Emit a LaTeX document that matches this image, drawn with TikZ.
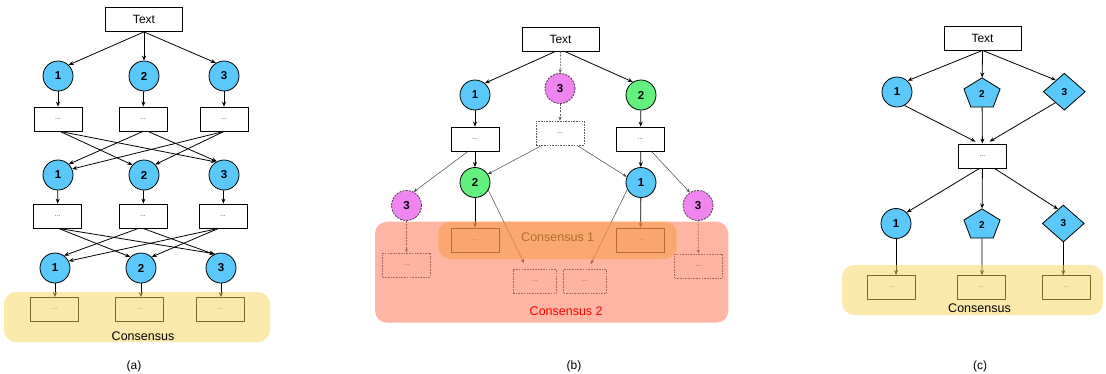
\documentclass[tikz,border=0pt]{standalone}
\usepackage{fontspec}
\setmainfont{Liberation Sans}
\usetikzlibrary{arrows.meta,shapes.geometric,calc}
\definecolor{cblue}{HTML}{5AC8FA}
\definecolor{cgreen}{HTML}{62F07F}
\definecolor{cpink}{HTML}{F084F0}
\definecolor{cyel}{HTML}{F9D55B}
\definecolor{csal}{HTML}{FF6B47}
\definecolor{corg}{HTML}{F79B3D}
\definecolor{ctxtone}{HTML}{AE6E22}
\definecolor{dgray}{HTML}{5A5A5A}
\begin{document}
\begin{tikzpicture}[x=1pt,y=-1pt,
  txtbox/.style={draw, fill=white, line width=0.8pt, minimum width=77pt, minimum height=24pt, inner sep=0pt, font=\fontsize{12}{14}\selectfont},
  agent/.style={circle, draw, line width=0.8pt, minimum size=30pt, inner sep=0pt, font=\fontsize{11.5}{13}\selectfont\bfseries},
  bluea/.style={agent, fill=cblue},
  greena/.style={agent, fill=cgreen},
  pinka/.style={agent, fill=cpink, draw=black!75, dash pattern=on 2pt off 1.2pt},
  pent/.style={regular polygon, regular polygon sides=5, draw, fill=cblue, line width=0.8pt, minimum size=38pt, inner sep=0pt, font=\fontsize{10}{12}\selectfont\bfseries},
  diam/.style={diamond, draw, fill=cblue, line width=0.8pt, minimum width=42pt, minimum height=37pt, inner sep=0pt, font=\fontsize{10}{12}\selectfont\bfseries},
  outbox/.style={draw, fill=white, line width=0.8pt, minimum width=48pt, minimum height=24pt, inner sep=0pt, font=\fontsize{7}{8}\selectfont, text=black!75},
  dbox/.style={outbox, draw=dgray, line width=0.7pt, dash pattern=on 1.6pt off 1.1pt},
  arr/.style={-{Stealth[length=5pt,width=4pt]}, line width=0.8pt},
  thinarr/.style={-{Stealth[length=4pt,width=3.2pt]}, line width=0.5pt, draw=black!72},
  dasharr/.style={-{Stealth[length=4pt,width=3.2pt]}, line width=0.6pt, draw=black!65, dash pattern=on 2pt off 1.2pt},
  lbl/.style={font=\fontsize{12}{14}\selectfont},
  cons/.style={font=\fontsize{12.5}{14}\selectfont, anchor=base}
]
\useasboundingbox (0,0) rectangle (1106,373);

% ================= (a) =================
\node[txtbox] (aT) at (144,19.5) {Text};
\node[bluea] (a11) at (58,76) {1};
\node[bluea] (a12) at (144,76) {2};
\node[bluea] (a13) at (224,76) {3};
\node[outbox] (ab11) at (58,119) {...};
\node[outbox] (ab12) at (143,119) {...};
\node[outbox] (ab13) at (224,119) {...};
\node[bluea] (a21) at (58,175) {1};
\node[bluea] (a22) at (144,175) {2};
\node[bluea] (a23) at (224,175) {3};
\node[outbox] (ab21) at (57.5,216) {...};
\node[outbox] (ab22) at (143,216) {...};
\node[outbox] (ab23) at (223,216) {...};
\node[bluea] (a31) at (55,268) {1};
\node[bluea] (a32) at (141,268) {2};
\node[bluea] (a33) at (221,268) {3};
\node[outbox] (ac1) at (54.5,309.5) {...};
\node[outbox] (ac2) at (139.5,309.5) {...};
\node[outbox] (ac3) at (220,309.5) {...};

\draw[arr] (aT.south) -- (a11.46);
\draw[arr] (aT.south) -- (a12);
\draw[arr] (aT.south) -- (a13.122);
\draw[arr] (a11) -- (ab11);
\draw[arr] (a12) -- (ab12);
\draw[arr] (a13) -- (ab13);
\draw[arr] ([xshift=2pt]ab11.south) -- (a22.139);
\draw[arr] ([xshift=2pt]ab11.south) -- (a23.122);
\draw[arr] (ab12.south) -- (a21.45);
\draw[arr] ([xshift=5pt]ab12.south) -- (a23.118);
\draw[arr] (ab13.south) -- (a21.23);
\draw[arr] (ab13.south) -- (a22.43);
\draw[arr] (a21) -- (ab21);
\draw[arr] (a22) -- (ab22);
\draw[arr] (a23) -- (ab23);
\draw[arr] ([xshift=1pt]ab21.south) -- (a32.134);
\draw[arr] ([xshift=1pt]ab21.south) -- (a33.113);
\draw[arr] ([xshift=-4.5pt]ab22.south) -- (a31.54);
\draw[arr] (ab22.south) -- (a33.117);
\draw[arr] ([xshift=-4.5pt]ab23.south) -- (a31.27);
\draw[arr] ([xshift=-4.5pt]ab23.south) -- (a32.46);
\draw[arr] (a31) -- (a31 |- ac1.north);
\draw[arr] (a32) -- (a32 |- ac2.north);
\draw[arr] (a33) -- (a33 |- ac3.north);

% ================= (b) =================
\node[txtbox] (bT) at (560.5,39) {Text};
\node[bluea] (b11) at (475,95) {1};
\node[pinka] (b13) at (560,88.5) {3};
\node[greena] (b12) at (641,95) {2};
\node[outbox] (bb1) at (475,139) {...};
\node[dbox] (bb3) at (560,133) {...};
\node[outbox] (bb2) at (640.5,139) {...};
\node[greena] (b22) at (475,182.5) {2};
\node[bluea] (b21) at (641,182.5) {1};
\node[pinka] (b23l) at (406.5,205.5) {3};
\node[pinka] (b23r) at (698,205.5) {3};
\node[outbox] (bc1) at (475,240) {...};
\node[outbox] (bc2) at (640.5,240) {...};
\node[dbox] (bd1) at (406.5,265) {...};
\node[dbox, minimum width=43pt] (bd2) at (534.5,281.5) {...};
\node[dbox, minimum width=43pt] (bd3) at (585,281.5) {...};
\node[dbox] (bd4) at (698.5,266) {...};

\draw[arr] ([xshift=-5pt]bT.south) -- (b11.50);
\draw[dasharr] (bT.south) -- (b13);
\draw[arr] ([xshift=4pt]bT.south) -- (b12.122);
\draw[arr] (b11) -- (bb1);
\draw[dasharr] (b13) -- (bb3);
\draw[arr] (b12) -- (bb2);
\draw[arr] (bb1) -- (b22);
\draw[thinarr] ([xshift=-7pt]bb1.south) -- (b23l.62);
\draw[thinarr] ([xshift=-18pt]bb3.south) -- (b22.33);
\draw[thinarr] ([xshift=17pt]bb3.south) -- (b21.158);
\draw[arr] (bb2) -- (b21);
\draw[thinarr] ([xshift=11pt]bb2.south) -- (b23r.122);
\draw[arr] (b22) -- (bc1);
\draw[thinarr] (b22.-30) -- ([xshift=-10.5pt,yshift=6pt]bd2.north);
\draw[arr] (b21) -- (bc2);
\draw[thinarr] (b21.-153) -- ([xshift=5.7pt,yshift=5pt]bd3.north);
\draw[dasharr] (b23l) -- (bd1);
\draw[dasharr] (b23r) -- (bd4);

% ================= (c) =================
\node[txtbox] (cT) at (982.5,38) {Text};
\node[bluea] (c11) at (897,92) {1};
\begin{scope}[shift={(982,94)}, yscale=0.85, transform shape]
  \node[pent] (c12) at (0,0) {\scalebox{1}[1.176]{2}};
\end{scope}
\node[diam] (c13) at (1064.3,91.7) {3};
\node[outbox] (cbox) at (982.5,156) {...};
\node[bluea] (c21) at (896,223.5) {1};
\begin{scope}[shift={(982,225)}, yscale=0.85, transform shape]
  \node[pent] (c22) at (0,0) {\scalebox{1}[1.176]{2}};
\end{scope}
\node[diam] (c23) at (1063.3,223.5) {3};
\node[outbox] (cc1) at (891.7,287.5) {...};
\node[outbox] (cc2) at (981,287.5) {...};
\node[outbox] (cc3) at (1066.5,287.5) {...};

\draw[arr] (cT.south) -- (c11.47);
\draw[arr] (cT.south) -- (c12);
\draw[arr] (cT.south) -- (c13.126);
\draw[arr] (c11.-61) -- ([xshift=-7pt,yshift=2pt]cbox.north);
\draw[arr] (c12) -- (cbox);
\draw[arr] (c13.-129) -- ([xshift=7pt,yshift=2pt]cbox.north);
\draw[arr] ([xshift=-3pt]cbox.south) -- (c21.46);
\draw[arr] (cbox) -- (c22);
\draw[arr] ([xshift=12pt]cbox.south) -- (c23.110);
\draw[arr] (c21) -- (c21 |- cc1.north);
\draw[arr] (c22) -- (c22 |- cc2.north);
\draw[arr] (c23) -- (c23 |- cc3.north);

% ================= overlays =================
\fill[cyel, fill opacity=0.5, rounded corners=12pt] (4,292) rectangle (270,342);
\fill[csal, fill opacity=0.5, rounded corners=12pt] (375,221.7) rectangle (728.3,322.7);
\fill[corg, fill opacity=0.5, rounded corners=12pt] (438.3,221.7) rectangle (676.7,259);
\fill[cyel, fill opacity=0.5, rounded corners=12pt] (842,265) rectangle (1103,315);

\node[cons] (aCons) at (143,340) {Consensus};
\node[cons, text=ctxtone] (bCons1) at (557.7,241) {Consensus 1};
\node[cons, text=red] (bCons2) at (566.2,315.7) {Consensus 2};
\node[cons] (cCons) at (979.5,312.3) {Consensus};

\node[lbl] (la) at (134,366) {(a)};
\node[lbl] (lb) at (574,366) {(b)};
\node[lbl] (lc) at (980,366) {(c)};
\end{tikzpicture}
\end{document}
